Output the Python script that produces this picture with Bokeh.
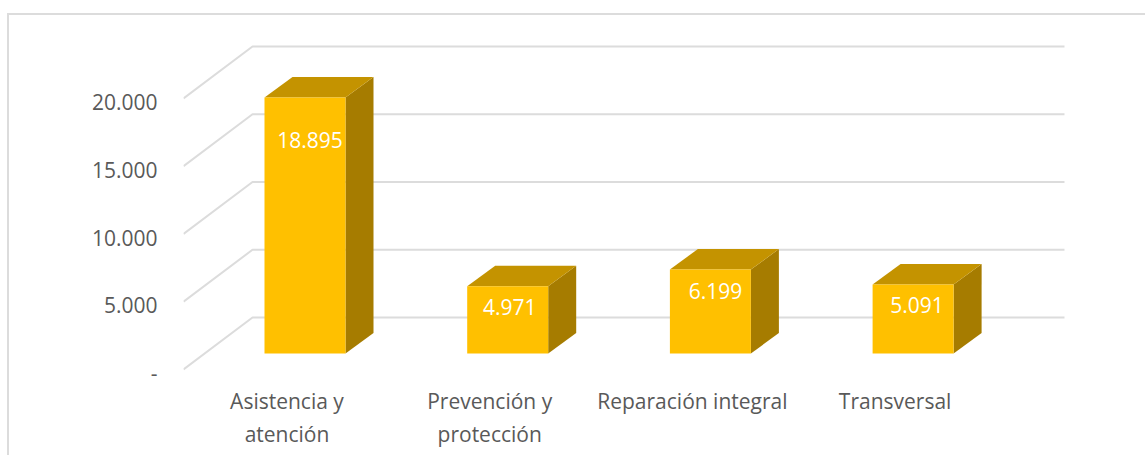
from bokeh.plotting import figure
from bokeh.embed import file_html
from bokeh.resources import INLINE
from bokeh.core.properties import value
from bokeh.models import ColumnDataSource, FixedTicker, LinearAxis, Range1d

# ---- data
categories = ["Asistencia y\natención", "Prevención y\nprotección",
              "Reparación integral", "Transversal"]
bar_values = [18895, 4971, 6199, 5091]
bar_labels = ["18.895", "4.971", "6.199", "5.091"]
y_ticks = [0, 5000, 10000, 15000, 20000]
y_tick_labels = ["-", "5.000", "10.000", "15.000", "20.000"]

# ---- layout constants (pixels, measured from the page corner)
OX, OY = 9, 15             # where the figure content starts, inside the frame border
W, H = 1147 - OX, 457 - OY
FRAME_L, FRAME_R, FRAME_T, FRAME_B = 183 - OX, W, 30 - OY, 375 - OY
PX_PER_VALUE = 67.75 / 5000
PX_PER_CAT = 202.7
FIRST_BAR_PX = 304.5 - OX
FLOOR_FRONT_PX = 369 - OY
WALL_DX, WALL_DY = 69, 52
BAR_DX, BAR_DY = 28, 20.5
BAR_W = 81
BAR_LIFT = 16
GRID_END_PX = 1064 - OX
LABEL_DX = [5, 2, 5, 4]
LABEL_DROP = [43, 21, 21, 20]
YLAB_SHIFT, XLAB_SHIFT = 3.5, 18

GRID = "#dcdcdc"
FRONT, TOP, SIDE = "#ffc000", "#c49300", "#a67c00"
INK = "#595959"
FONT = "Open Sans"
SIZE = "21px"

def xd(px):
    return px / PX_PER_CAT

def yd(px):
    return px / PX_PER_VALUE

x0 = -xd(FIRST_BAR_PX - FRAME_L)
x1 = xd(FRAME_R - FIRST_BAR_PX)
y0 = -yd(FRAME_B - FLOOR_FRONT_PX)
y1 = yd(FLOOR_FRONT_PX - FRAME_T)

p = figure(width=W, height=H, output_backend="svg", toolbar_location=None,
           x_range=Range1d(x0, x1), y_range=Range1d(y0, y1),
           x_axis_type=None, y_axis_type=None,
           min_border_left=FRAME_L, min_border_right=0,
           min_border_top=FRAME_T, min_border_bottom=H - FRAME_B)
p.outline_line_color = None
p.grid.visible = False
p.background_fill_color = "white"
p.border_fill_color = "white"
# outer chart frame: top and left edges only are visible in the window
p.styles = {"margin-left": "7px", "margin-top": "13px",
            "border-left": f"2px solid {GRID}", "border-top": f"2px solid {GRID}"}

grid_end = x0 + xd(GRID_END_PX - FRAME_L)
grid_xs = [[x0, x0 + xd(WALL_DX), grid_end] for _ in y_ticks]
grid_ys = [[t, t + yd(WALL_DY), t + yd(WALL_DY)] for t in y_ticks]
p.multi_line(grid_xs, grid_ys, line_color=GRID, line_width=2)

half = xd(BAR_W) / 2
ddx, ddy = xd(BAR_DX), yd(BAR_DY)
base = yd(BAR_LIFT)
centres = list(range(len(bar_values)))
for c, v in zip(centres, bar_values):
    lo, hi = base, base + v
    p.patch([c + half, c + half + ddx, c + half + ddx, c + half],
            [lo, lo + ddy, hi + ddy, hi], fill_color=SIDE, line_color=None)
    p.patch([c - half, c + half, c + half + ddx, c - half + ddx],
            [hi, hi, hi + ddy, hi + ddy], fill_color=TOP, line_color=None)
    p.quad(left=c - half, right=c + half, bottom=lo, top=hi,
           fill_color=FRONT, line_color=None)

src = ColumnDataSource(dict(
    x=[c + xd(d) for c, d in zip(centres, LABEL_DX)],
    y=[base + v - yd(d) for v, d in zip(bar_values, LABEL_DROP)],
    t=bar_labels))
p.text("x", "y", text="t", source=src, text_color="white", text_align="center",
       text_baseline="middle", text_font=value(FONT), text_font_size=value(SIZE))

p.extra_y_ranges["ylab"] = Range1d(y0 + yd(YLAB_SHIFT), y1 + yd(YLAB_SHIFT))
p.extra_x_ranges["xlab"] = Range1d(x0 + xd(XLAB_SHIFT), x1 + xd(XLAB_SHIFT))

yax = LinearAxis(y_range_name="ylab", ticker=FixedTicker(ticks=y_ticks),
                 major_label_overrides=dict(zip(y_ticks, y_tick_labels)),
                 axis_line_color=None, major_tick_line_color=None,
                 major_tick_out=0, major_tick_in=0,
                 minor_tick_line_color=None, major_label_standoff=26,
                 major_label_text_color=INK, major_label_text_font=FONT,
                 major_label_text_font_size=SIZE)
p.add_layout(yax, "left")

xax = LinearAxis(x_range_name="xlab", ticker=FixedTicker(ticks=centres),
                 major_label_overrides=dict(zip(centres, categories)),
                 axis_line_color=None, major_tick_line_color=None,
                 major_tick_out=0, major_tick_in=0,
                 minor_tick_line_color=None, major_label_standoff=11,
                 major_label_text_color=INK, major_label_text_font=FONT,
                 major_label_text_font_size=SIZE)
p.add_layout(xax, "below")

open("out.html", "w").write(file_html(p, INLINE))
